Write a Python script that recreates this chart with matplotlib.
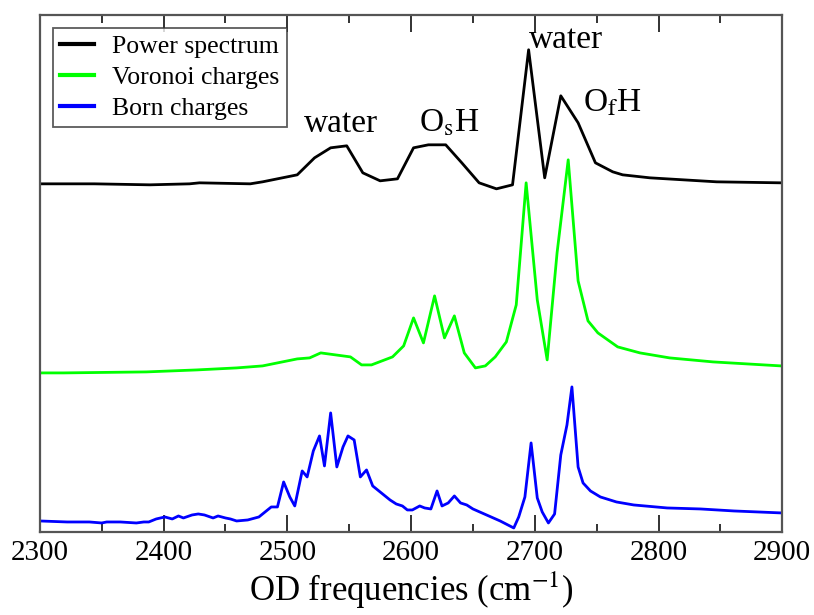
import matplotlib
matplotlib.use("Agg")
import matplotlib.pyplot as plt
from matplotlib.ticker import MultipleLocator

plt.rcParams['font.family'] = ['Liberation Serif', 'DejaVu Serif']
plt.rcParams['mathtext.fontset'] = 'stix'

# power spectrum
freq_power = [2300, 2344, 2389, 2421, 2429, 2470, 2480, 2508, 2522, 2535, 2548,
              2561, 2575, 2589, 2602, 2614, 2628, 2641, 2655, 2669, 2682, 2695,
              2708, 2721, 2735, 2749, 2763, 2771, 2793, 2820, 2847, 2899]
power = [0, 0, -1, 0, 1, 0, 2, 9, 26, 36, 38, 11, 3, 5, 36, 39, 39, 21, 1, -5,
         -1, 134, 6, 88, 61, 21, 12, 9, 6, 4, 2, 1]

# voronoi charges
freq_voronoi = [2300, 2319, 2386, 2427, 2459, 2480, 2508, 2518, 2527, 2551, 2560,
                2568, 2585, 2594, 2602, 2610, 2619, 2627, 2635, 2643, 2652, 2660,
                2668, 2677, 2685, 2693, 2702, 2710, 2718, 2727, 2735, 2743, 2751,
                2767, 2785, 2809, 2844, 2899]
voronoi = [0, 0, 1, 3, 5, 7, 14, 15, 20, 16, 8, 8, 16, 27, 55, 30, 77, 35, 57,
           20, 5, 7, 16, 31, 68, 190, 73, 13, 120, 213, 92, 52, 40, 26, 20, 15,
           11, 7]

# born charges
freq_born = [2300, 2322, 2340, 2350, 2354, 2365, 2378, 2384, 2388, 2394, 2401,
             2407, 2412, 2416, 2423, 2428, 2433, 2440, 2444, 2450, 2454, 2459,
             2468, 2477, 2487, 2492, 2497, 2502, 2506, 2512, 2516, 2521, 2526,
             2530, 2535, 2540, 2545, 2549, 2554, 2559, 2564, 2569, 2575, 2583,
             2588, 2593, 2597, 2601, 2607, 2611, 2616, 2621, 2625, 2630, 2635,
             2640, 2645, 2650, 2672, 2683, 2687, 2692, 2697, 2702, 2706, 2711,
             2716, 2721, 2726, 2730, 2735, 2739, 2745, 2753, 2766, 2780, 2807,
             2834, 2861, 2900]
born = [1, 0, 0, -1, 0, 0, -1, 0, 0, 3, 5, 3, 6, 4, 7, 8, 7, 4, 6, 4, 3, 1, 2,
        5, 15, 15, 40, 25, 16, 51, 45, 71, 86, 56, 109, 55, 75, 86, 82, 45, 52,
        36, 30, 22, 18, 16, 12, 12, 16, 14, 13, 31, 16, 19, 26, 19, 17, 13, 1,
        -6, 5, 25, 79, 24, 10, -1, 8, 67, 97, 135, 55, 39, 31, 25, 20, 17, 14,
        13, 11, 9]

offsets = {"power": 348, "voronoi": 159, "born": 10}

fig = plt.figure(figsize=(8.14, 6.15), dpi=100)
ax = fig.add_axes([0.049, 0.135, 0.912, 0.841])

ax.plot(freq_power, [v + offsets["power"] for v in power], color="black", lw=2,
        label="Power spectrum")
ax.plot(freq_voronoi, [v + offsets["voronoi"] for v in voronoi], color="#00ff00",
        lw=2, label="Voronoi charges")
ax.plot(freq_born, [v + offsets["born"] for v in born], color="#0000ff", lw=2,
        label="Born charges")

ax.set_xlim(2300, 2900)
ax.set_ylim(0, 517)
ax.set_yticks([])
ax.xaxis.set_major_locator(MultipleLocator(100))
ax.xaxis.set_minor_locator(MultipleLocator(50))
ax.tick_params(axis="x", which="both", direction="in", top=True, labelsize=21,
               width=1.3, color="#222222", pad=6)
ax.tick_params(axis="x", which="major", length=12)
ax.tick_params(axis="x", which="minor", length=6)
for s in ax.spines.values():
    s.set_linewidth(1.6)
    s.set_color("#555555")

ax.set_xlabel("OD frequencies (cm$^{-1}$)", fontsize=25, labelpad=2)

# peak labels
ax.text(2543, 400, "water", fontsize=24, ha="center", va="baseline")
ax.text(2631, 400, "O$_\\mathrm{s}$H", fontsize=24, ha="center", va="baseline")
ax.text(2725, 484, "water", fontsize=24, ha="center", va="baseline")
ax.text(2763, 420, "O$_\\mathrm{f}$H", fontsize=24, ha="center", va="baseline")

leg = ax.legend(loc="upper left", fontsize=18.5, frameon=True, fancybox=False,
                borderaxespad=0.5, handlelength=1.3, handletextpad=0.7,
                labelspacing=0.3, borderpad=0.3)
leg.get_frame().set_edgecolor("#333333")
leg.get_frame().set_linewidth(1.3)
for line in leg.get_lines():
    line.set_linewidth(3)

fig.savefig("out.png", dpi=100)
